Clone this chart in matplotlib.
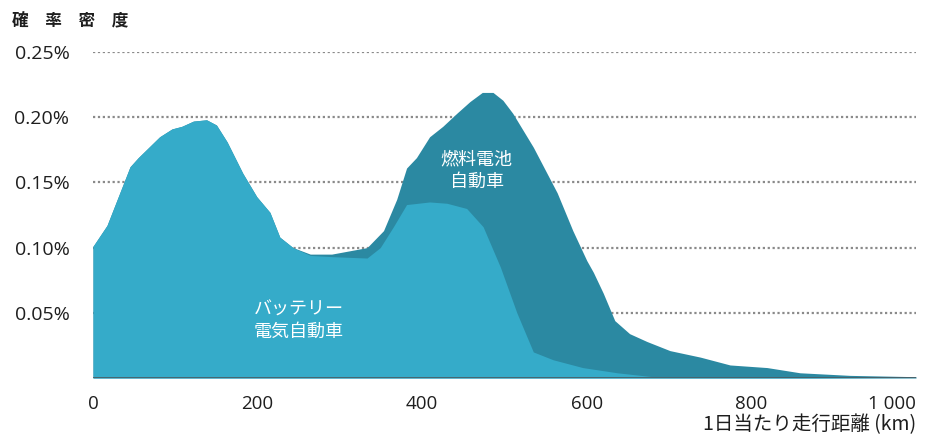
import matplotlib
matplotlib.use("Agg")
import matplotlib.pyplot as plt

plt.rcParams['font.family'] = ['Open Sans', 'Noto Sans CJK JP', 'DejaVu Sans']

# Battery electric vehicle (light area)
bev_km = [0, 17, 45, 55, 81, 96, 108, 122, 138, 150, 163, 182, 199, 215, 227, 243,
          264, 292, 333, 349, 365, 381, 409, 430, 454, 474, 495, 515, 535, 559,
          595, 637, 680, 1000]
bev_pct = [0.101, 0.117, 0.162, 0.169, 0.185, 0.191, 0.193, 0.197, 0.198, 0.194,
           0.181, 0.157, 0.139, 0.127, 0.108, 0.100, 0.094, 0.093, 0.092, 0.100,
           0.116, 0.133, 0.135, 0.134, 0.130, 0.116, 0.085, 0.050, 0.020, 0.014,
           0.008, 0.004, 0.001, 0.0]

# Fuel cell vehicle (dark area, drawn behind)
fcv_km = [0, 17, 45, 55, 81, 96, 108, 122, 138, 150, 163, 182, 199, 215, 227, 243,
          264, 290, 333, 353, 369, 381, 393, 409, 425, 442, 458, 473, 486, 498,
          510, 535, 564, 583, 600, 608, 620, 634, 652, 673, 701, 738, 774, 819,
          859, 920, 1000]
fcv_pct = [0.101, 0.117, 0.162, 0.169, 0.185, 0.191, 0.193, 0.197, 0.198, 0.194,
           0.181, 0.157, 0.139, 0.127, 0.108, 0.100, 0.095, 0.095, 0.100, 0.113,
           0.137, 0.161, 0.169, 0.185, 0.193, 0.203, 0.212, 0.219, 0.219, 0.213,
           0.203, 0.177, 0.142, 0.113, 0.090, 0.081, 0.065, 0.044, 0.034, 0.028,
           0.021, 0.016, 0.010, 0.008, 0.004, 0.002, 0.001]

y_ticks = [0.05, 0.10, 0.15, 0.20, 0.25]
y_labels = ["0.05%", "0.10%", "0.15%", "0.20%", "0.25%"]
x_ticks = [0, 200, 400, 600, 800, 1000]
x_labels = ["0", "200", "400", "600", "800", "1 000"]

light = "#35abc9"
dark = "#2b89a2"
txt = "#1e1e1e"
jp = ['Noto Sans CJK JP', 'DejaVu Sans']

fig = plt.figure(figsize=(9.36, 4.36), dpi=100)
ax = fig.add_axes([93 / 936, 1 - 378 / 436, 823 / 936, 326 / 436])

for y in y_ticks:
    ax.axhline(y, color="#8a8a8a", linestyle=(0, (1, 1.2)), linewidth=1.6, zorder=0)

ax.fill_between(fcv_km, fcv_pct, 0, color=dark, linewidth=0, zorder=1)
ax.fill_between(bev_km, bev_pct, 0, color=light, linewidth=0, zorder=2)
ax.axhline(0, color="#4a5a60", linewidth=1.2, zorder=3)

ax.set_xlim(0, 1000)
ax.set_ylim(0, 0.25)
for s in ax.spines.values():
    s.set_visible(False)

ax.set_yticks(y_ticks)
ax.set_yticklabels(y_labels, fontsize=14, color=txt)
ax.set_xticks(x_ticks)
ax.set_xticklabels(x_labels, fontsize=13.5, color=txt)
ax.get_xticklabels()[-1].set_ha("right")
ax.tick_params(axis="y", length=0, pad=17)
ax.tick_params(axis="x", length=0, pad=12)

fig.text(12 / 936, 1 - 20 / 436, "確　率　密　度", fontsize=12, fontweight="bold",
         color=txt, ha="left", va="center", family=jp)
fig.text(916 / 936, 1 - 425 / 436, "1日当たり走行距離 (km)", fontsize=14,
         color=txt, ha="right", va="center", family=jp)

ax.text(250, 0.044, "バッテリー\n電気自動車", color="white", fontsize=13,
        ha="center", va="center", linespacing=1.3, family=jp, zorder=4)
ax.text(466, 0.159, "燃料電池\n自動車", color="white", fontsize=13,
        ha="center", va="center", linespacing=1.3, family=jp, zorder=4)

fig.savefig("out.png", dpi=100)
